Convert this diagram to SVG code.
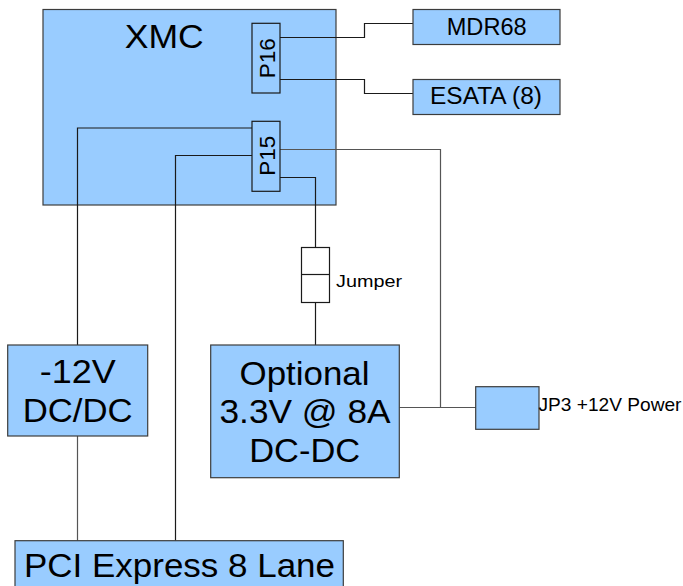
<svg xmlns="http://www.w3.org/2000/svg" width="683" height="586" viewBox="0 0 683 586">
<style>
.box{fill:#99ccff;stroke:#3c3c3c;stroke-width:1.2}
.pin{fill:#99ccff;stroke:#1a1a1a;stroke-width:1.2}
.wire{fill:none;stroke:#1a1a1a;stroke-width:1.2}
.wire2{fill:none;stroke:#555;stroke-width:1.2}
text{font-family:"Liberation Sans",Arial,sans-serif;fill:#000}
.big{font-size:33px;text-anchor:middle}
.mid{font-size:23px;text-anchor:middle}
.pl{font-size:22px;text-anchor:middle}
</style>
<rect width="683" height="586" fill="#fff"/>
<g id="xmc">
<rect class="box" x="43" y="9.5" width="293" height="195.5"/>
<text class="big" x="164.2" y="48.3" textLength="79" lengthAdjust="spacingAndGlyphs">XMC</text>
</g>
<g id="connectors">
<polyline class="wire" points="280,37.5 364.5,37.5 364.5,23.5 413,23.5"/>
<polyline class="wire" points="280,79.5 364.5,79.5 364.5,93.5 413,93.5"/>
<polyline class="wire" points="252,128 77.5,128 77.5,345"/>
<polyline class="wire" points="252,155.5 175.5,155.5 175.5,540.7"/>
<polyline class="wire2" points="280,149.5 440.5,149.5 440.5,407.5"/>
<polyline class="wire" points="280,177.5 315.5,177.5 315.5,247.5"/>
<line class="wire" x1="315.5" y1="302.5" x2="315.5" y2="345"/>
<line class="wire2" x1="399.3" y1="407.5" x2="476" y2="407.5"/>
<line class="wire2" x1="77.5" y1="436" x2="77.5" y2="540.7"/>
</g>
<g id="p16">
<rect class="pin" x="252" y="23.3" width="28" height="69.7"/>
<text class="pl" transform="translate(275,58.3) rotate(-90)" textLength="40" lengthAdjust="spacingAndGlyphs">P16</text>
</g>
<g id="p15">
<rect class="pin" x="252" y="121.3" width="28" height="70"/>
<text class="pl" transform="translate(275,155.8) rotate(-90)" textLength="40" lengthAdjust="spacingAndGlyphs">P15</text>
</g>
<g id="mdr68">
<rect class="box" x="413" y="9.5" width="147" height="35"/>
<text class="mid" x="486.7" y="35" textLength="80" lengthAdjust="spacingAndGlyphs">MDR68</text>
</g>
<g id="esata">
<rect class="box" x="413" y="79.5" width="147" height="35"/>
<text class="mid" x="486" y="104.3" textLength="112" lengthAdjust="spacingAndGlyphs">ESATA (8)</text>
</g>
<g id="jumper">
<rect fill="#fff" stroke="#1a1a1a" stroke-width="1.2" x="301.5" y="247.5" width="28" height="55"/>
<line class="wire" x1="301.5" y1="274.5" x2="329.5" y2="274.5"/>
<text x="336" y="286.5" font-size="17" textLength="66" lengthAdjust="spacingAndGlyphs">Jumper</text>
</g>
<g id="minus12v">
<rect class="box" x="7.7" y="345" width="140" height="91"/>
<text class="big" x="77.7" y="383.3" textLength="76" lengthAdjust="spacingAndGlyphs">-12V</text>
<text class="big" x="77.7" y="421.7" textLength="110" lengthAdjust="spacingAndGlyphs">DC/DC</text>
</g>
<g id="optional">
<rect class="box" x="210.7" y="345" width="188.6" height="132.7"/>
<text class="big" x="304.5" y="385" textLength="130" lengthAdjust="spacingAndGlyphs">Optional</text>
<text class="big" x="305" y="423.3" textLength="171" lengthAdjust="spacingAndGlyphs">3.3V @ 8A</text>
<text class="big" x="304.7" y="461.7" textLength="111" lengthAdjust="spacingAndGlyphs">DC-DC</text>
</g>
<g id="jp3">
<rect class="box" x="475.7" y="386.7" width="63.3" height="42.6"/>
<text x="538.5" y="410.7" font-size="18.6" textLength="143" lengthAdjust="spacingAndGlyphs">JP3 +12V Power</text>
</g>
<g id="pci">
<rect class="box" x="15" y="540.7" width="328.3" height="60"/>
<text x="24" y="576.7" font-size="33" textLength="311" lengthAdjust="spacingAndGlyphs">PCI Express 8 Lane</text>
</g>
</svg>
